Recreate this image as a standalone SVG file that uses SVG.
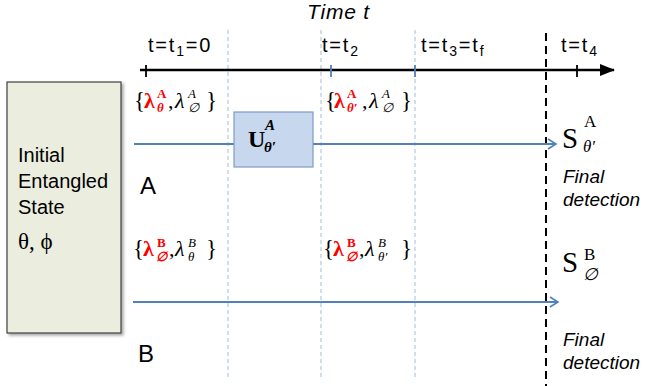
<svg xmlns="http://www.w3.org/2000/svg" width="645" height="386" viewBox="0 0 645 386">
<defs>
<style>
.sans{font-family:"Liberation Sans",Arial,sans-serif;fill:#000}
.it{font-style:italic}
.ser{font-family:"Liberation Serif","DejaVu Serif",serif}
.red{fill:#ff0000;font-weight:bold}
.grid{stroke:#b8cce4;stroke-width:1.3;stroke-dasharray:4 3;fill:none}
.wire{stroke:#4f81bd;stroke-width:2;fill:none}
.tl{font-size:20px;letter-spacing:1.8px}
</style>
<marker id="open" markerWidth="12" markerHeight="12" refX="10" refY="6" orient="auto" markerUnits="userSpaceOnUse">
<path d="M2,1 L10,6 L2,11" fill="none" stroke="#4f81bd" stroke-width="1.6"/>
</marker>
<marker id="solid" markerWidth="16" markerHeight="12" refX="14" refY="6" orient="auto" markerUnits="userSpaceOnUse">
<path d="M0,0 L15,6 L0,12 z" fill="#000"/>
</marker>
<filter id="sh" x="-10%" y="-10%" width="130%" height="130%">
<feDropShadow dx="2" dy="2" stdDeviation="1.5" flood-color="#000" flood-opacity="0.35"/>
</filter>
</defs>

<g id="grid">
<line class="grid" x1="228" y1="30" x2="228" y2="378"/>
<line class="grid" x1="321" y1="30" x2="321" y2="378"/>
<line class="grid" x1="415" y1="30" x2="415" y2="378"/>
<line x1="546" y1="33" x2="546" y2="386" stroke="#000" stroke-width="2" stroke-dasharray="8 5"/>
</g>

<g id="timeaxis">
<text class="sans it" x="307" y="19" font-size="21" letter-spacing="0.8">Time t</text>
<line x1="140" y1="70" x2="614" y2="70" stroke="#000" stroke-width="2.5" marker-end="url(#solid)"/>
<line x1="146" y1="65" x2="146" y2="77" stroke="#000" stroke-width="1.8"/>
<line x1="331" y1="65" x2="331" y2="77" stroke="#4f81bd" stroke-width="1.8"/>
<line x1="415" y1="65" x2="415" y2="77" stroke="#4f81bd" stroke-width="1.8"/>
<line x1="577" y1="65" x2="577" y2="77" stroke="#000" stroke-width="1.8"/>
<text class="sans tl" x="148" y="52">t=t<tspan font-size="14" dy="4">1</tspan><tspan dy="-4">=0</tspan></text>
<text class="sans tl" x="322" y="52">t=t<tspan font-size="14" dy="4">2</tspan></text>
<text class="sans tl" x="421" y="52">t=t<tspan font-size="14" dy="4">3</tspan><tspan dy="-4">=t</tspan><tspan font-size="14" dy="4">f</tspan></text>
<text class="sans tl" x="561" y="52">t=t<tspan font-size="14" dy="4">4</tspan></text>
</g>

<g id="source">
<rect x="7" y="82" width="114" height="251" fill="#ebeedf" stroke="#404040" stroke-width="1.2" filter="url(#sh)"/>
<text class="sans" x="18" y="162" font-size="20">Initial</text>
<text class="sans" x="18" y="188" font-size="20">Entangled</text>
<text class="sans" x="18" y="214" font-size="20">State</text>
<text class="ser" x="18" y="249" font-size="23">θ, ϕ</text>
</g>

<g id="connectors">
<line class="wire" x1="134" y1="144" x2="234" y2="144"/>
<line class="wire" x1="313" y1="144" x2="556" y2="144" marker-end="url(#open)"/>
<line class="wire" x1="133" y1="302" x2="558" y2="302" marker-end="url(#open)"/>
</g>

<g id="gateU">
<rect x="234" y="112" width="79" height="55" fill="#c6d7ee" stroke="#7d9cc4" stroke-width="1.2"/>
<text class="ser" x="248" y="147" font-size="24" font-weight="bold">U</text>
<text class="ser" x="265" y="130" font-size="15" font-weight="bold" font-style="italic">A</text>
<text class="ser" x="264" y="152" font-size="15" font-weight="bold" font-style="italic">θ′</text>
</g>

<g id="labelA1" class="ser">
<text x="134" y="108" font-size="23">{</text>
<text x="144" y="108" font-size="22" class="red">λ</text>
<text x="157" y="98" font-size="13" class="red">A</text>
<text x="157" y="112" font-size="13" class="red" font-style="italic">θ</text>
<text x="168" y="108" font-size="22">,</text>
<text x="175" y="108" font-size="22" font-style="italic">λ</text>
<text x="188" y="98" font-size="13" font-style="italic">A</text>
<text x="188" y="112" font-size="13" font-style="italic">∅</text>
<text x="206" y="108" font-size="23">}</text>
</g>

<g id="labelA2" class="ser">
<text x="325" y="108" font-size="23">{</text>
<text x="334" y="108" font-size="22" class="red">λ</text>
<text x="347" y="98" font-size="13" class="red">A</text>
<text x="347" y="112" font-size="13" class="red" font-style="italic">θ′</text>
<text x="362" y="108" font-size="22">,</text>
<text x="369" y="108" font-size="22" font-style="italic">λ</text>
<text x="382" y="98" font-size="13" font-style="italic">A</text>
<text x="382" y="112" font-size="13" font-style="italic">∅</text>
<text x="401" y="108" font-size="23">}</text>
</g>

<g id="labelB1" class="ser">
<text x="133" y="256" font-size="23">{</text>
<text x="143" y="256" font-size="22" class="red">λ</text>
<text x="157" y="247" font-size="13" class="red">B</text>
<text x="156" y="261" font-size="13" class="red" font-style="italic">∅</text>
<text x="169" y="256" font-size="22">,</text>
<text x="175" y="256" font-size="22" font-style="italic">λ</text>
<text x="188" y="247" font-size="13" font-style="italic">B</text>
<text x="188" y="261" font-size="13" font-style="italic">θ</text>
<text x="206" y="256" font-size="23">}</text>
</g>

<g id="labelB2" class="ser">
<text x="323" y="256" font-size="23">{</text>
<text x="333" y="256" font-size="22" class="red">λ</text>
<text x="347" y="247" font-size="13" class="red">B</text>
<text x="346" y="261" font-size="13" class="red" font-style="italic">∅</text>
<text x="359" y="256" font-size="22">,</text>
<text x="365" y="256" font-size="22" font-style="italic">λ</text>
<text x="378" y="247" font-size="13" font-style="italic">B</text>
<text x="378" y="261" font-size="13" font-style="italic">θ′</text>
<text x="401" y="256" font-size="23">}</text>
</g>

<g id="wireA-label"><text class="sans" x="140" y="194" font-size="24">A</text></g>
<g id="wireB-label"><text class="sans" x="138" y="362" font-size="24">B</text></g>

<g id="detectA">
<text class="ser" x="562" y="148" font-size="29">S</text>
<text class="ser" x="584" y="127" font-size="17">A</text>
<text class="ser" x="583" y="152" font-size="17" font-style="italic">θ′</text>
<text class="sans it" x="563" y="183" font-size="19">Final</text>
<text class="sans it" x="563" y="206" font-size="19">detection</text>
</g>

<g id="detectB">
<text class="ser" x="562" y="272" font-size="29">S</text>
<text class="ser" x="584" y="260" font-size="17">B</text>
<text class="ser" x="583" y="280" font-size="17" font-style="italic">∅</text>
<text class="sans it" x="563" y="346" font-size="19">Final</text>
<text class="sans it" x="563" y="369" font-size="19">detection</text>
</g>
</svg>
